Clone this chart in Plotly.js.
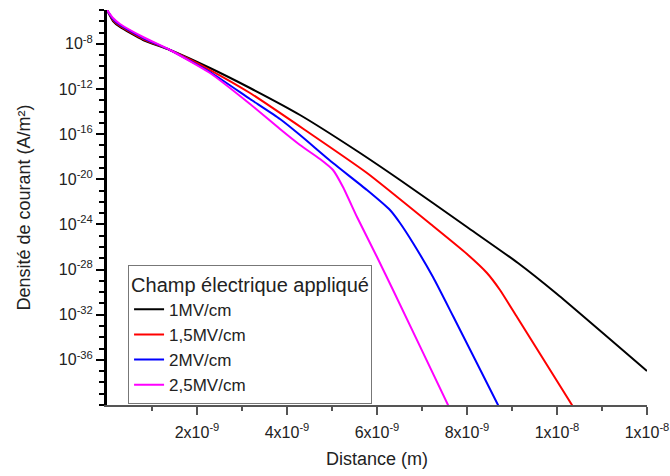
<!DOCTYPE html>
<html>
<head>
<meta charset="utf-8">
<script src="https://cdn.plot.ly/plotly-3.0.1.min.js"></script>
<style>html,body{margin:0;padding:0;background:#fff;}#chart{width:670px;height:476px;}</style>
</head>
<body>
<div id="chart"></div>
<script>
// Distance in units of 1e-9 m; values given as log10 of current density (A/m²)
const seriesNames = ["1MV/cm", "1,5MV/cm", "2MV/cm", "2,5MV/cm"];
const seriesColors = ["#000000", "#ff0000", "#0000ff", "#ff00ff"];

const x1 = [0, 0.133, 0.289, 0.80, 1.40, 2.289, 3.178, 4.289, 5.556, 6.511, 8.0, 9.133, 10.0, 12.0];
const logJ1 = [-5.0, -5.975, -6.506, -7.658, -8.544, -10.139, -11.911, -14.304, -17.494, -20.063, -24.228, -27.418, -30.165, -36.988];

const x2 = [0, 0.133, 0.289, 0.80, 1.40, 2.289, 3.178, 4.40, 5.778, 7.244, 8.0, 8.444, 8.733, 9.111, 10.333, 10.511];
const logJ2 = [-5.0, -5.886, -6.418, -7.570, -8.544, -10.317, -12.354, -15.633, -19.444, -24.140, -26.622, -28.305, -29.812, -32.204, -40.0, -41.15];

const x3 = [0, 0.133, 0.289, 0.80, 1.40, 2.289, 3.178, 3.844, 4.289, 5.022, 5.778, 6.289, 6.511, 6.80, 7.244, 7.689, 8.689, 8.844];
const logJ3 = [-5.0, -5.798, -6.329, -7.481, -8.544, -10.494, -12.886, -14.659, -16.077, -18.558, -20.950, -22.722, -23.874, -25.646, -28.659, -32.115, -40.0, -41.24];

const x4 = [0, 0.133, 0.289, 0.80, 1.40, 2.289, 3.178, 3.844, 4.289, 4.733, 5.022, 5.244, 5.556, 6.0, 6.356, 7.578, 7.711];
const logJ4 = [-5.0, -5.709, -6.241, -7.393, -8.544, -10.582, -13.329, -15.544, -16.962, -18.203, -19.178, -20.684, -23.343, -26.887, -29.811, -40.0, -41.15];

const xTickVals = [2e-9, 4e-9, 6e-9, 8e-9, 1e-8, 1.2e-8];
const xTickText = ["2x10<sup>-9</sup>", "4x10<sup>-9</sup>", "6x10<sup>-9</sup>", "8x10<sup>-9</sup>", "1x10<sup>-8</sup>", "1x10<sup>-8</sup>"];
const xMinorVals = [1e-9, 3e-9, 5e-9, 7e-9, 9e-9, 1.1e-8];
const yTickExps = [-8, -12, -16, -20, -24, -28, -32, -36];
const yMinorExps = [];
for (let e = -5; e >= -40; e--) yMinorExps.push(e);

const xs = [x1, x2, x3, x4];
const ys = [logJ1, logJ2, logJ3, logJ4];

const traces = xs.map((xa, i) => ({
  x: xa.map(v => v * 1e-9),
  y: ys[i].map(v => Math.pow(10, v)),
  type: "scatter",
  mode: "lines",
  name: seriesNames[i],
  line: {color: seriesColors[i], width: 2, shape: "spline", smoothing: 0.5}
}));

const layout = {
  width: 670, height: 476,
  margin: {l: 107, r: 23, t: 10, b: 71},
  paper_bgcolor: "#fff", plot_bgcolor: "#fff",
  font: {family: "Liberation Sans, Arial, sans-serif", size: 16, color: "#222"},
  showlegend: true,
  legend: {
    x: 0.039, y: 0.355, xanchor: "left", yanchor: "top",
    bordercolor: "#777", borderwidth: 1, bgcolor: "#fff",
    font: {size: 17, color: "#222"},
    title: {text: "Champ électrique appliqué", font: {size: 20, color: "#222"}},
    tracegroupgap: 0
  },
  xaxis: {
    range: [0, 1.2e-8],
    showgrid: false, zeroline: false,
    showline: true, linecolor: "#555", linewidth: 2,
    ticks: "outside", ticklen: 8, tickwidth: 2, tickcolor: "#555",
    ticklabelstandoff: 4,
    tickmode: "array", tickvals: xTickVals, ticktext: xTickText,
    minor: {tickmode: "array", tickvals: xMinorVals, ticks: "outside", ticklen: 4, tickwidth: 2, tickcolor: "#555"},
    tickfont: {size: 16, color: "#222"},
    title: {text: "Distance (m)", font: {size: 18, color: "#222"}, standoff: 12}
  },
  yaxis: {
    type: "log",
    range: [-40, -5],
    showgrid: false, zeroline: false,
    showline: true, linecolor: "#000", linewidth: 3,
    ticks: "outside", ticklen: 8, tickwidth: 2, tickcolor: "#000",
    tickmode: "array",
    tickvals: yTickExps.map(e => Math.pow(10, e)),
    ticktext: yTickExps.map(e => "10<sup>" + e + "</sup>"),
    minor: {tickmode: "array", tickvals: yMinorExps.map(e => Math.pow(10, e)), ticks: "outside", ticklen: 5, tickwidth: 2, tickcolor: "#000"},
    tickfont: {size: 16, color: "#222"},
    title: {text: "Densité de courant (A/m²)", font: {size: 18, color: "#222"}, standoff: 24}
  }
};

Plotly.newPlot("chart", traces, layout, {displayModeBar: false, staticPlot: true});
</script>
</body>
</html>
